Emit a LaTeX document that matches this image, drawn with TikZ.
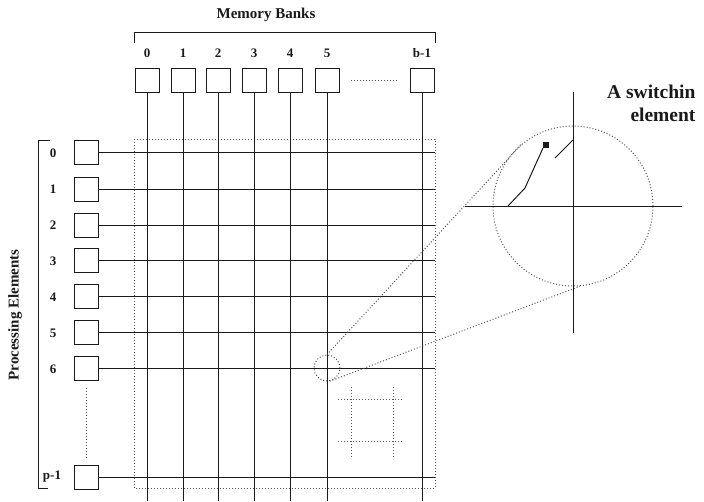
\documentclass[tikz,border=0pt]{standalone}
\usepackage{fontspec}
\setmainfont{Liberation Serif}
\usepackage{xcolor}
\usepackage{tikz}
\usetikzlibrary{calc}
\definecolor{ink}{HTML}{1A1A1A}
\definecolor{dots}{HTML}{555555}
\tikzset{
  unitBox/.style={draw=ink, line width=1pt, minimum width=24pt, minimum height=24pt, inner sep=0pt},
  gridLine/.style={draw=ink, line width=1pt},
  dotLine/.style={draw=dots, line width=1pt, dash pattern=on 1pt off 2pt},
  zoomRing/.style={circle, draw=dots, line width=1pt, dash pattern=on 1pt off 2pt, inner sep=0pt},
  numLabel/.style={text=ink, font=\fontsize{13}{15}\selectfont\bfseries},
  headText/.style={text=ink, font=\fontsize{15}{17}\selectfont\bfseries},
  noteText/.style={text=ink, font=\fontsize{19.5}{23}\selectfont\bfseries, align=right}
}

\begin{document}
\begin{tikzpicture}[x=1pt, y=-1pt]
  \useasboundingbox (0,0) rectangle (704,501);

  % memory banks
  \node[headText] (bankTitle) at (266,15) {Memory Banks};
  \draw[gridLine] (134,43) -- (134,32) -- (435,32) -- (435,43);

  \node[unitBox] (m0) at (147,80) {};
  \node[unitBox] (m1) at (183,80) {};
  \node[unitBox] (m2) at (218,80) {};
  \node[unitBox] (m3) at (254,80) {};
  \node[unitBox] (m4) at (290,80) {};
  \node[unitBox] (m5) at (327,80) {};
  \node[unitBox] (mb) at (422,80) {};

  \node[numLabel] (mLab0) at (147,53) {0};
  \node[numLabel] (mLab1) at (183,53) {1};
  \node[numLabel] (mLab2) at (218,53) {2};
  \node[numLabel] (mLab3) at (254,53) {3};
  \node[numLabel] (mLab4) at (290,53) {4};
  \node[numLabel] (mLab5) at (327,53) {5};
  \node[numLabel] (mLabb) at (422,53) {b-1};

  \draw[dotLine, shorten <=11pt, shorten >=12pt] (m5.east) -- (mb.west);

  % processing elements
  \node[headText, rotate=90] (peTitle) at (15,315) {Processing Elements};
  \draw[gridLine] (50,140) -- (38,140) -- (38,488) -- (48,488);

  \node[unitBox] (p0) at (86,152) {};
  \node[unitBox] (p1) at (86,189) {};
  \node[unitBox] (p2) at (86,225) {};
  \node[unitBox] (p3) at (86,260) {};
  \node[unitBox] (p4) at (86,296) {};
  \node[unitBox] (p5) at (86,332) {};
  \node[unitBox] (p6) at (86,368) {};
  \node[unitBox] (pp) at (86,477) {};

  \node[numLabel] (pLab0) at (53,153) {0};
  \node[numLabel] (pLab1) at (53,189) {1};
  \node[numLabel] (pLab2) at (53,225) {2};
  \node[numLabel] (pLab3) at (53,261) {3};
  \node[numLabel] (pLab4) at (53,297) {4};
  \node[numLabel] (pLab5) at (53,333) {5};
  \node[numLabel] (pLab6) at (53,369) {6};
  \node[numLabel] (pLabp) at (52,477) {p-1};

  \draw[dotLine, shorten <=7pt, shorten >=5pt] (p6.south) -- (pp.north);

  % crossbar
  \draw[dotLine] (134,139) rectangle (435,488);

  \draw[gridLine] (m0.south) -- (m0.south |- 0,501);
  \draw[gridLine] (m1.south) -- (m1.south |- 0,501);
  \draw[gridLine] (m2.south) -- (m2.south |- 0,501);
  \draw[gridLine] (m3.south) -- (m3.south |- 0,501);
  \draw[gridLine] (m4.south) -- (m4.south |- 0,501);
  \draw[gridLine] (m5.south) -- (m5.south |- 0,501);
  \draw[gridLine] (mb.south) -- (mb.south |- 0,501);

  \draw[gridLine] (p0.east) -- (p0.east -| 435,0);
  \draw[gridLine] (p1.east) -- (p1.east -| 435,0);
  \draw[gridLine] (p2.east) -- (p2.east -| 435,0);
  \draw[gridLine] (p3.east) -- (p3.east -| 435,0);
  \draw[gridLine] (p4.east) -- (p4.east -| 435,0);
  \draw[gridLine] (p5.east) -- (p5.east -| 435,0);
  \draw[gridLine] (p6.east) -- (p6.east -| 435,0);
  \draw[gridLine] (pp.east) -- (pp.east -| 435,0);

  % small dotted cell
  \draw[dotLine] (338,399) -- (403,399);
  \draw[dotLine] (338,441) -- (403,441);
  \draw[dotLine] (351,387) -- (351,459);
  \draw[dotLine] (393,387) -- (393,459);

  % switching element, enlarged
  \node[zoomRing, minimum size=26pt] (zoomSmall) at (327,368) {};
  \node[zoomRing, minimum size=160pt] (zoomBig) at (573,206) {};
  \draw[dotLine] (zoomSmall.90) -- (zoomBig.129);
  \draw[dotLine] (zoomSmall.-78) -- (zoomBig.-85);

  \draw[gridLine] (465,206) -- (682,206);
  \draw[gridLine] (573,92) -- (573,333);
  \coordinate (leverBase) at (508,206);
  \coordinate (leverKnee) at (525,188);
  \coordinate (leverTip) at (543,148);
  \draw[gridLine] (leverBase) -- (leverKnee) -- (leverTip);
  \fill[ink] (543,142) rectangle (549,148);
  \draw[gridLine] (555,158) -- (573,140);

  \node[noteText, anchor=east] (switchNote) at (699,103) {A switchin\\element};
\end{tikzpicture}
\end{document}
